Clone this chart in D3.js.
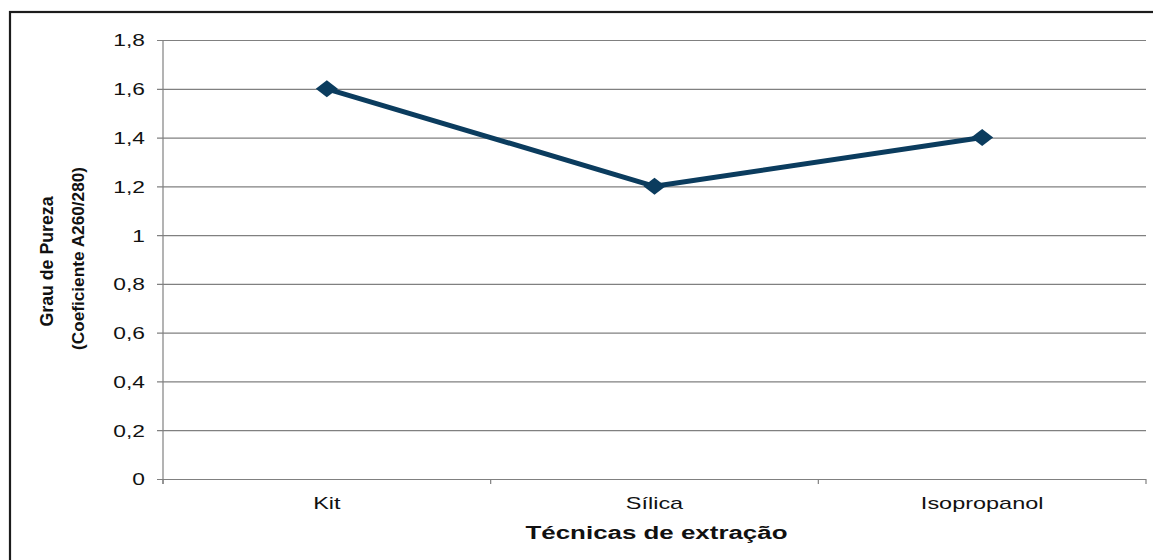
<!DOCTYPE html>
<html>
<head>
<meta charset="utf-8">
<script src="https://cdn.jsdelivr.net/npm/d3@7"></script>
<style>
  html, body { margin: 0; padding: 0; background: #fff; }
  svg { display: block; }
  text { font-family: "Liberation Sans", Arial, sans-serif; fill: #111; }
</style>
</head>
<body>
<svg id="chart" width="1153" height="560"></svg>
<script>
// Purity ratio (A260/280) for each DNA extraction technique
const categories = ["Kit", "Sílica", "Isopropanol"];
const purity = [1.6, 1.2, 1.4];
const yTicks = [0, 0.2, 0.4, 0.6, 0.8, 1, 1.2, 1.4, 1.6, 1.8];
const xTitle = "Técnicas de extração";
const yTitle = ["Grau de Pureza", "(Coeficiente A260/280)"];

const svg = d3.select("#chart");
const plot = { left: 163, right: 1146, top: 40, bottom: 479 };
const stretch = 1.38; // horizontal widening of the text glyphs

const x = d3.scaleBand().domain(categories).range([plot.left, plot.right]).padding(0);
const y = d3.scaleLinear().domain([0, 1.8]).range([plot.bottom, plot.top]);
const ptFormat = d3.formatLocale({ decimal: ",", thousands: ".", grouping: [3], currency: ["", ""] }).format("~g");

function widen(sel) {
  sel.each(function () {
    const n = this.getComputedTextLength();
    d3.select(this).attr("textLength", n * stretch).attr("lengthAdjust", "spacingAndGlyphs");
  });
}

// outer frame (runs past the right and bottom edges)
svg.append("rect")
  .attr("x", 10).attr("y", 12).attr("width", 1300).attr("height", 700)
  .attr("fill", "none").attr("stroke", "#1c1c1c").attr("stroke-width", 2.2);

// horizontal gridlines + y tick labels
const yAxis = d3.axisLeft(y).tickValues(yTicks).tickFormat(ptFormat)
  .tickSize(-(plot.right - plot.left) - 6).tickPadding(12);
const gy = svg.append("g").attr("transform", `translate(${plot.left - 6},0)`).call(yAxis);
gy.select(".domain").remove();
gy.selectAll(".tick line").attr("stroke", "#808080").attr("stroke-width", 1.2);
gy.selectAll(".tick text")
  .attr("font-size", 16.5).attr("fill", "#111")
  .attr("dy", "0.36em")
  .call(widen);

// left axis line
svg.append("line")
  .attr("x1", plot.left).attr("x2", plot.left)
  .attr("y1", y(1.8)).attr("y2", plot.bottom + 5)
  .attr("stroke", "#808080").attr("stroke-width", 1.2);

// x axis with ticks at the category boundaries
const boundaries = categories.map(c => x(c)).concat([x(categories[categories.length - 1]) + x.bandwidth()]);
const gx = svg.append("g").attr("transform", `translate(0,${plot.bottom})`);
gx.selectAll("line.tk").data(boundaries).join("line")
  .attr("class", "tk")
  .attr("x1", d => d).attr("x2", d => d)
  .attr("y1", 0).attr("y2", 5)
  .attr("stroke", "#808080").attr("stroke-width", 1.2);
gx.selectAll("text").data(categories).join("text")
  .attr("x", d => x(d) + x.bandwidth() / 2)
  .attr("y", 30)
  .attr("text-anchor", "middle")
  .attr("font-size", 17)
  .text(d => d)
  .call(widen);

// x axis title
svg.append("text")
  .attr("x", (plot.left + plot.right) / 2 + 2)
  .attr("y", 539)
  .attr("text-anchor", "middle")
  .attr("font-size", 17.5).attr("font-weight", "bold")
  .attr("textLength", 262).attr("lengthAdjust", "spacingAndGlyphs")
  .text(xTitle);

// y axis title (two rotated lines)
const cy = (plot.top + plot.bottom) / 2;
svg.append("text")
  .attr("transform", `translate(53,${cy + 2}) rotate(-90)`)
  .attr("text-anchor", "middle")
  .attr("font-size", 19).attr("font-weight", "bold")
  .attr("textLength", 130).attr("lengthAdjust", "spacingAndGlyphs")
  .text(yTitle[0]);
svg.append("text")
  .attr("transform", `translate(84,${cy - 1}) rotate(-90)`)
  .attr("text-anchor", "middle")
  .attr("font-size", 17).attr("font-weight", "bold")
  .attr("textLength", 183).attr("lengthAdjust", "spacingAndGlyphs")
  .text(yTitle[1]);

// data line
const pts = categories.map((c, i) => [x(c) + x.bandwidth() / 2, y(purity[i])]);
svg.append("path")
  .attr("d", d3.line()(pts))
  .attr("fill", "none")
  .attr("stroke", "#0b3c5e")
  .attr("stroke-width", 5)
  .attr("stroke-linejoin", "round");

// diamond markers (slightly wider than tall)
const wideDiamond = {
  draw(ctx, size) {
    const hw = Math.sqrt(size) / 2 * 1.3, hh = Math.sqrt(size) / 2;
    ctx.moveTo(0, -hh); ctx.lineTo(hw, 0); ctx.lineTo(0, hh); ctx.lineTo(-hw, 0); ctx.closePath();
  }
};
svg.selectAll("path.mk").data(pts).join("path")
  .attr("class", "mk")
  .attr("transform", d => `translate(${d[0]},${d[1]})`)
  .attr("d", d3.symbol(wideDiamond, 17 * 17)())
  .attr("fill", "#0b3c5e");
</script>
</body>
</html>
